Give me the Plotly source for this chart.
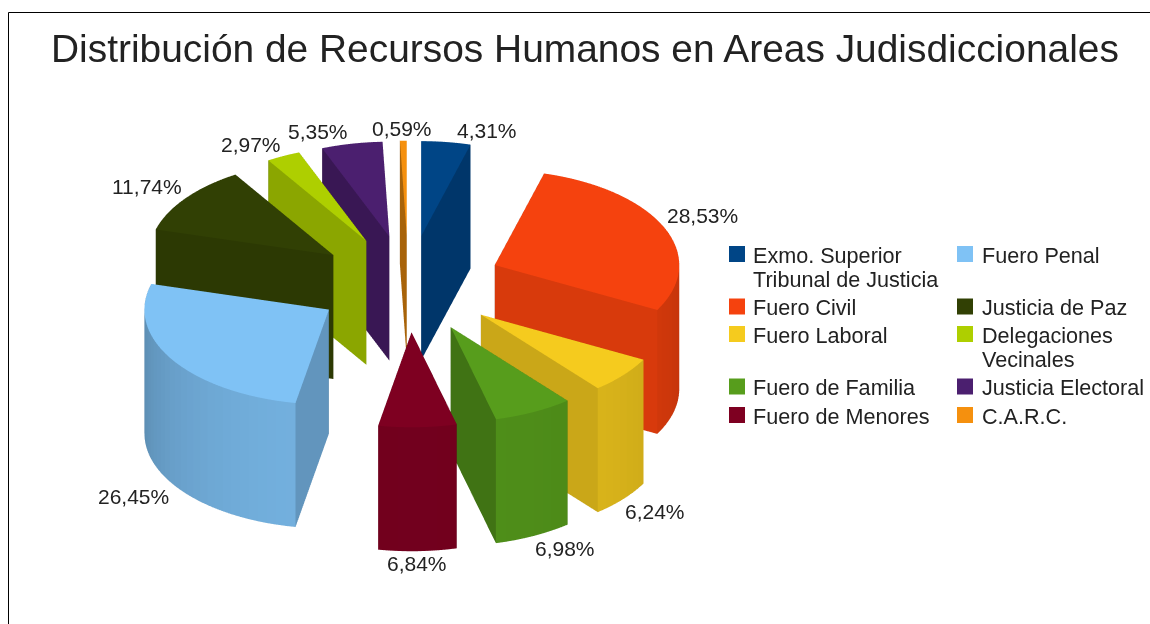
import math
import plotly.graph_objects as go

title = "Distribución de Recursos Humanos en Areas Judisdiccionales"
categories = ["Exmo. Superior<br>Tribunal de Justicia", "Fuero Civil", "Fuero Laboral", "Fuero de Familia",
              "Fuero de Menores", "Fuero Penal", "Justicia de Paz", "Delegaciones<br>Vecinales",
              "Justicia Electoral", "C.A.R.C."]
values = [4.31, 28.53, 6.24, 6.98, 6.84, 26.45, 11.74, 2.97, 5.35, 0.59]
colors = ["#004586", "#f5420e", "#f5cb1e", "#579d1c", "#7e0021", "#7fc2f5", "#314004", "#aecf00", "#4b1f6f", "#f5900e"]

# geometry (px-like data units)
RADIUS = 187
EXPLODE = 95
HEIGHT = 146.5
TILT = 0.515
L = 400
SCENE_W, SCENE_H = 817, 568
EYE = 2.5
SCALE = 2.78


def shade(hex_color, f):
    r, g, b = (int(hex_color[i:i + 2], 16) for i in (1, 3, 5))
    return f"rgb({int(r * f)},{int(g * f)},{int(b * f)})"


def side_factor(a):
    x = -math.cos(a)
    return (0.80 + 0.11 * x) if math.sin(a) > 0 else (0.72 + 0.19 * x)


def cut_factor(normal):
    x = -math.cos(normal)
    return 0.68 + 0.23 * x + (0.05 if math.sin(normal) > 0 else 0)


fig = go.Figure()
start = 0.0
total = sum(values)
for val, col, name in zip(values, colors, categories):
    a0 = start / total * 2 * math.pi
    a1 = (start + val) / total * 2 * math.pi
    mid = (a0 + a1) / 2
    ox, oy = EXPLODE * math.sin(mid), EXPLODE * math.cos(mid)
    n = max(2, int((a1 - a0) / math.radians(3)))
    angs = [a0 + (a1 - a0) * k / n for k in range(n + 1)]
    xs, ys, zs, ii, jj, kk, fc = [], [], [], [], [], [], []

    def v(x, y, z):
        xs.append(x + ox); ys.append(y + oy); zs.append(z)
        return len(xs) - 1

    def quad(p, q, r, s, c):
        ii.extend([p, p]); jj.extend([q, r]); kk.extend([r, s]); fc.extend([c, c])

    ct, cb = v(0, 0, 0), v(0, 0, -HEIGHT)
    top = [v(RADIUS * math.sin(a), RADIUS * math.cos(a), 0) for a in angs]
    bot = [v(RADIUS * math.sin(a), RADIUS * math.cos(a), -HEIGHT) for a in angs]
    for t in range(n):
        ii.append(ct); jj.append(top[t]); kk.append(top[t + 1]); fc.append(col)
        ii.append(cb); jj.append(bot[t]); kk.append(bot[t + 1]); fc.append(shade(col, 0.7))
        am = (angs[t] + angs[t + 1]) / 2
        quad(top[t], top[t + 1], bot[t + 1], bot[t], shade(col, side_factor(am)))
    quad(ct, top[0], bot[0], cb, shade(col, cut_factor(a0 - math.pi / 2)))
    quad(ct, top[-1], bot[-1], cb, shade(col, cut_factor(a1 + math.pi / 2)))
    fig.add_trace(go.Mesh3d(x=xs, y=ys, z=zs, i=ii, j=jj, k=kk, facecolor=fc, flatshading=True,
                            name=name.replace("<br>", " "), hoverinfo="name",
                            lighting=dict(ambient=1, diffuse=0, specular=0, roughness=1, fresnel=0)))
    start += val

el_sin = TILT
el_cos = math.sqrt(1 - TILT ** 2)
axis = dict(visible=False, range=[-L, L], showspikes=False)
fig.update_layout(
    width=1150, height=624, margin=dict(l=0, r=0, t=0, b=0), paper_bgcolor="white", showlegend=False,
    font=dict(family="Liberation Sans", color="#222222"),
    scene=dict(
        domain=dict(x=[0, SCENE_W / 1150], y=[1 - SCENE_H / 624, 1]),
        xaxis=axis, yaxis=axis, zaxis=axis, aspectmode="manual",
        aspectratio=dict(x=SCALE, y=SCALE, z=SCALE),
        camera=dict(projection=dict(type="orthographic"), up=dict(x=0, y=0, z=1), center=dict(x=0, y=0, z=0),
                    eye=dict(x=0, y=-EYE * el_cos, z=EYE * el_sin)),
        bgcolor="rgba(0,0,0,0)",
    ),
)


def px(x):
    return x / 1150


def py(y):
    return 1 - y / 624


shapes = [
    dict(type="line", xref="paper", yref="paper", x0=px(8.5), x1=px(1150), y0=py(12.5), y1=py(12.5), line=dict(color="black", width=1)),
    dict(type="line", xref="paper", yref="paper", x0=px(8.5), x1=px(8.5), y0=py(12.5), y1=py(624), line=dict(color="black", width=1)),
]
annotations = [dict(text=title, xref="paper", yref="paper", x=px(585), y=py(49), xanchor="center", yanchor="middle",
                    showarrow=False, font=dict(size=38.9, family="Liberation Sans", color="#222222"))]

# percent labels, in the order of `values`
label_pos = [(487, 130), (702, 215), (655, 511), (565, 548), (417, 563), (133, 497), (147, 186), (251, 144), (318, 131), (402, 129)]
for val, (lx, ly) in zip(values, label_pos):
    annotations.append(dict(text=f"{val:.2f}%".replace(".", ","), xref="paper", yref="paper", x=px(lx), y=py(ly),
                            xanchor="center", yanchor="middle", showarrow=False, font=dict(size=21)))

# legend, two columns
legend_rows = [254, 306.5, 334, 386.5, 415]
legend_pos = [(729, r) for r in legend_rows] + [(957, r) for r in legend_rows]
for idx, (lx, ly) in enumerate(legend_pos):
    shapes.append(dict(type="rect", xref="paper", yref="paper", x0=px(lx), x1=px(lx + 16), y0=py(ly - 8), y1=py(ly + 8),
                       fillcolor=colors[idx], line=dict(width=0)))
    text_x = lx + (22 if lx < 900 else 23)
    for line_no, part in enumerate(categories[idx].split("<br>")):
        annotations.append(dict(text=part, xref="paper", yref="paper", x=px(text_x), y=py(ly + 1 + 24.5 * line_no),
                                xanchor="left", yanchor="middle", align="left", showarrow=False, font=dict(size=21.6)))
fig.update_layout(shapes=shapes, annotations=annotations)
fig.write_html("out.html", config=dict(displayModeBar=False),
               post_script="document.body.style.margin='0';document.documentElement.style.overflow='hidden';")
